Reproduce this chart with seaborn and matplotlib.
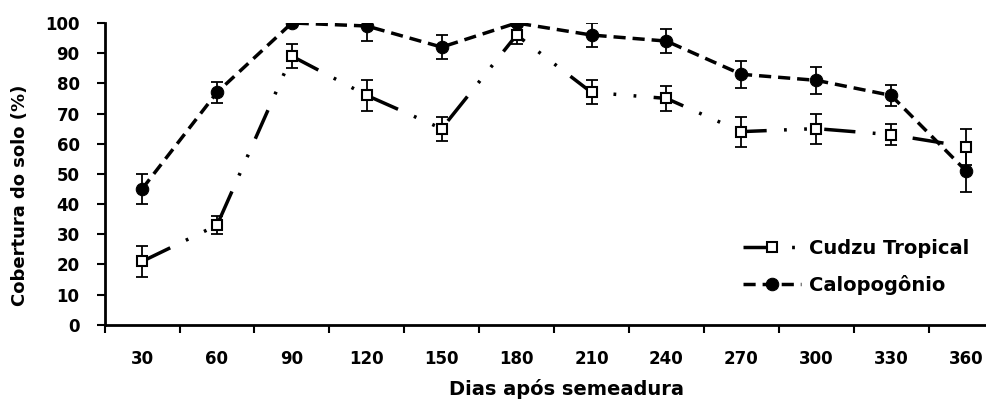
import pandas as pd
import seaborn as sns
import matplotlib.pyplot as plt
import numpy as np

# --- Datos ---
dias = [30, 60, 90, 120, 150, 180, 210, 240, 270, 300, 330, 360]
cudzu = [21, 33, 89, 76, 65, 96, 77, 75, 64, 65, 63, 59]
cudzu_err = [5, 3, 4, 5, 4, 3, 4, 4, 5, 5, 3.5, 6]
calopo = [45, 77, 100, 99, 92, 100, 96, 94, 83, 81, 76, 51]
calopo_err = [5, 3.5, 1, 5, 4, 1, 4, 4, 4.5, 4.5, 3.5, 7]

pos = np.arange(len(dias))
df = pd.DataFrame({"pos": np.concatenate([pos, pos]),
                   "valor": cudzu + calopo,
                   "serie": ["Cudzu Tropical"] * len(dias) + ["Calopogônio"] * len(dias)})

sns.set_style("ticks")
plt.rcParams["font.family"] = ["DejaVu Sans"]
plt.rcParams["font.weight"] = "bold"
plt.rcParams["text.color"] = "black"
plt.rcParams["axes.labelcolor"] = "black"
plt.rcParams["xtick.color"] = "black"
plt.rcParams["ytick.color"] = "black"

fig = plt.figure(figsize=(9.87, 4.03), dpi=100)
ax = fig.add_axes([0.106, 0.194, 0.894, 0.749])

# barras de error
ax.errorbar(pos, cudzu, yerr=cudzu_err, fmt="none", ecolor="black",
            elinewidth=1.3, capsize=4, capthick=1.3, zorder=2)
ax.errorbar(pos, calopo, yerr=calopo_err, fmt="none", ecolor="black",
            elinewidth=1.3, capsize=4, capthick=1.3, zorder=2)

sns.lineplot(data=df, x="pos", y="valor", hue="serie", style="serie",
             palette=["black", "black"],
             markers={"Cudzu Tropical": "s", "Calopogônio": "o"},
             dashes={"Cudzu Tropical": (9, 5, 0.8, 5, 0.8, 5), "Calopogônio": (3.5, 2)},
             linewidth=2.5, markersize=8, ax=ax, zorder=3)

# marcador abierto para Cudzu
for line in ax.get_lines():
    if line.get_marker() == "s":
        line.set_markerfacecolor("white")
        line.set_markeredgecolor("black")
        line.set_markersize(7)
        line.set_markeredgewidth(1.5)
    elif line.get_marker() == "o":
        line.set_markerfacecolor("black")
        line.set_markeredgecolor("black")
        line.set_markersize(9)

ax.set_ylim(0, 100)
ax.set_yticks(range(0, 101, 10))
ax.set_xlim(-0.5, 11.28)
ax.set_xticks(pos)
ax.set_xticklabels([str(d) for d in dias])
ax.set_xticks(np.arange(-0.5, 11.5, 1), minor=True)
ax.tick_params(axis="x", which="major", length=0, pad=18, labelsize=12)
ax.tick_params(axis="x", which="minor", length=6, width=1.5, direction="out", color="black")
ax.tick_params(axis="y", length=6, width=1.5, labelsize=12, pad=12, color="black")
for lab in ax.get_xticklabels() + ax.get_yticklabels():
    lab.set_fontweight("bold")

sns.despine(ax=ax)
ax.spines["left"].set_linewidth(2)
ax.spines["bottom"].set_linewidth(2)
ax.spines["left"].set_color("black")
ax.spines["bottom"].set_color("black")

ax.set_xlabel("Dias após semeadura", fontsize=14, fontweight="bold", va="top")
ax.xaxis.set_label_coords(0.523, -0.18)
ax.set_ylabel("Cobertura do solo (%)", fontsize=13, fontweight="bold")
ax.yaxis.set_label_coords(-0.086, 0.43)

leg = ax.legend(loc="lower right", bbox_to_anchor=(1.0, 0.04), frameon=False,
                fontsize=14, handlelength=3.0, labelspacing=0.9, handletextpad=0.4)
for t in leg.get_texts():
    t.set_fontweight("bold")

plt.savefig("out.png", dpi=100)
plt.close()
